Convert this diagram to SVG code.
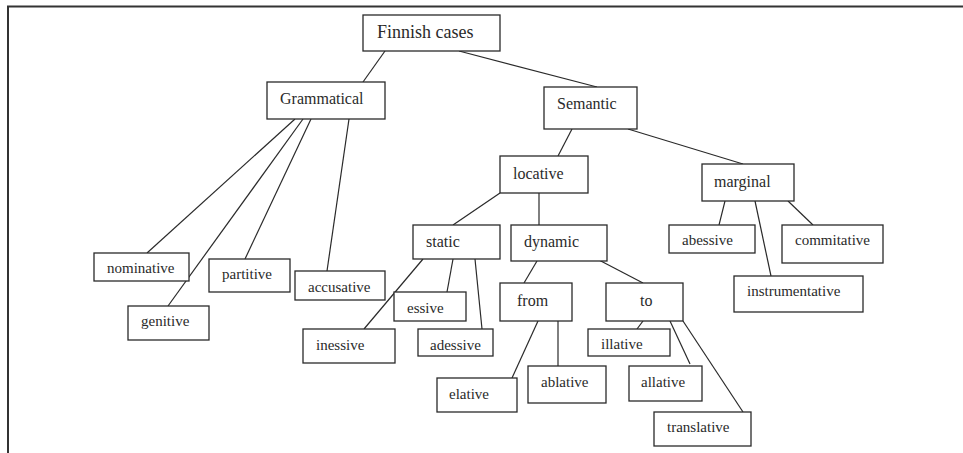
<svg xmlns="http://www.w3.org/2000/svg" width="963" height="453" viewBox="0 0 963 453">
<style>
rect{fill:#fff;stroke:#2a2a2a;stroke-width:1.3}
text{font-family:"Liberation Serif","Times New Roman",serif;fill:#2a2a2a;font-size:15px}
.l1{font-size:18px}
.l2{font-size:16px}
#connectors line{stroke:#2a2a2a;stroke-width:1.2}
</style>
<rect x="0" y="0" width="963" height="453" style="stroke:none"/>
<path d="M8,453 V6.5 H963" fill="none" stroke="#333" stroke-width="2"/>
<g id="connectors">
<line x1="385" y1="51" x2="363" y2="82"/>
<line x1="459" y1="51" x2="597" y2="87"/>
<line x1="295" y1="119" x2="147" y2="253"/>
<line x1="303" y1="119" x2="168" y2="306"/>
<line x1="311" y1="119" x2="245" y2="259"/>
<line x1="349" y1="119" x2="327" y2="271"/>
<line x1="572" y1="129" x2="558" y2="156"/>
<line x1="628" y1="129" x2="743" y2="164"/>
<line x1="500" y1="193" x2="453" y2="225"/>
<line x1="539" y1="193" x2="539" y2="225"/>
<line x1="725" y1="201" x2="719" y2="225"/>
<line x1="755" y1="201" x2="771" y2="276"/>
<line x1="788" y1="201" x2="813" y2="225"/>
<line x1="423" y1="259" x2="364" y2="329"/>
<line x1="453" y1="259" x2="447" y2="292"/>
<line x1="475" y1="259" x2="482" y2="329"/>
<line x1="537" y1="261" x2="524" y2="283"/>
<line x1="597" y1="259" x2="643" y2="283"/>
<line x1="538" y1="321" x2="512" y2="378"/>
<line x1="558" y1="321" x2="558" y2="366"/>
<line x1="643" y1="321" x2="637" y2="329"/>
<line x1="670" y1="321" x2="690" y2="364"/>
<line x1="683" y1="321" x2="743" y2="412"/>
</g>
<g id="finnish-cases"><rect x="363" y="15" width="137" height="36"/><text class="l1" x="377" y="38">Finnish cases</text></g>
<g id="grammatical"><rect x="267" y="82" width="118" height="37"/><text class="l2" x="280" y="104">Grammatical</text></g>
<g id="semantic"><rect x="544" y="87" width="93" height="42"/><text class="l2" x="557" y="109">Semantic</text></g>
<g id="locative"><rect x="500" y="156" width="88" height="37"/><text class="l2" x="513" y="179">locative</text></g>
<g id="marginal"><rect x="702" y="164" width="92" height="37"/><text class="l2" x="714" y="187">marginal</text></g>
<g id="static"><rect x="413" y="225" width="87" height="34"/><text class="l2" x="426" y="247">static</text></g>
<g id="dynamic"><rect x="511" y="225" width="96" height="36"/><text class="l2" x="524" y="247">dynamic</text></g>
<g id="abessive"><rect x="669" y="225" width="86" height="28"/><text x="682" y="245">abessive</text></g>
<g id="commitative"><rect x="782" y="225" width="101" height="38"/><text x="795" y="245">commitative</text></g>
<g id="instrumentative"><rect x="734" y="276" width="129" height="36"/><text x="747" y="296">instrumentative</text></g>
<g id="nominative"><rect x="94" y="253" width="95" height="28"/><text x="107" y="273">nominative</text></g>
<g id="genitive"><rect x="128" y="306" width="81" height="34"/><text x="141" y="326">genitive</text></g>
<g id="partitive"><rect x="209" y="259" width="81" height="33"/><text x="222" y="279">partitive</text></g>
<g id="accusative"><rect x="295" y="271" width="90" height="29"/><text x="308" y="292">accusative</text></g>
<g id="essive"><rect x="394" y="292" width="72" height="29"/><text x="407" y="313">essive</text></g>
<g id="inessive"><rect x="303" y="329" width="92" height="34"/><text x="316" y="350">inessive</text></g>
<g id="adessive"><rect x="418" y="329" width="75" height="27"/><text x="430" y="350">adessive</text></g>
<g id="from"><rect x="500" y="283" width="72" height="38"/><text class="l2" x="517" y="306">from</text></g>
<g id="to"><rect x="606" y="283" width="77" height="38"/><text class="l2" x="640" y="306">to</text></g>
<g id="illative"><rect x="588" y="329" width="82" height="27"/><text x="601" y="349">illative</text></g>
<g id="elative"><rect x="437" y="378" width="80" height="34"/><text x="449" y="399">elative</text></g>
<g id="ablative"><rect x="528" y="366" width="78" height="37"/><text x="541" y="387">ablative</text></g>
<g id="allative"><rect x="629" y="366" width="73" height="35"/><text x="641" y="387">allative</text></g>
<g id="translative"><rect x="654" y="412" width="97" height="34"/><text x="667" y="432">translative</text></g>
</svg>
